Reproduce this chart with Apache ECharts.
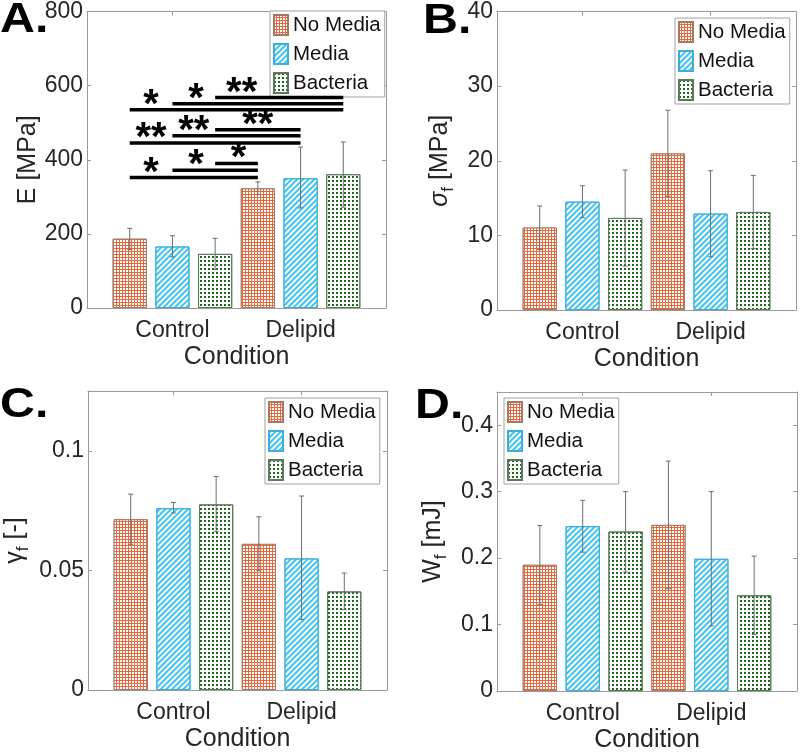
<!DOCTYPE html>
<html><head><meta charset="utf-8">
<script src="https://cdn.jsdelivr.net/npm/echarts@6/dist/echarts.min.js"></script>
<style>html,body{margin:0;padding:0;background:#fff}#c{width:800px;height:756px}</style>
</head><body><div id="c"></div>
<script>
// ---------- data ----------
const categories = ['Control', 'Delipid'];
const seriesNames = ['No Media', 'Media', 'Bacteria'];

// Panel A: E [MPa]   (rows: series, cols: category)
const eMean = [[187, 323], [166, 350], [146, 361]];
const eHigh = [[215, 340], [195, 434], [188, 448]];
const eLow  = [[158, 306], [138, 270], [104, 272]];
const eTicks = [0, 200, 400, 600, 800];

// Panel B: sigma_f [MPa]
const sMean = [[11.05, 20.98], [14.52, 12.92], [12.34, 13.14]];
const sHigh = [[13.94, 26.77], [16.66, 18.66], [18.75, 18.04]];
const sLow  = [[8.10, 15.23], [12.38, 7.13], [5.88, 8.24]];
const sTicks = [0, 10, 20, 30, 40];

// Panel C: gamma_f [-]
const gMean = [[0.0714, 0.0611], [0.0760, 0.0550], [0.0776, 0.0412]];
const gHigh = [[0.0819, 0.0724], [0.0784, 0.0811], [0.0893, 0.0489]];
const gLow  = [[0.0609, 0.0499], [0.0740, 0.0295], [0.0662, 0.0336]];
const gTicks = [0, 0.05, 0.1];

// Panel D: W_f [mJ]
const wMean = [[0.190, 0.250], [0.248, 0.199], [0.240, 0.144]];
const wHigh = [[0.249, 0.346], [0.287, 0.300], [0.300, 0.203]];
const wLow  = [[0.130, 0.154], [0.209, 0.098], [0.179, 0.085]];
const wTicks = [0, 0.1, 0.2, 0.3, 0.4];

// Panel A significance brackets (bar positions 1..6)
const sigStart = [1, 2, 3, 1, 2, 3, 1, 2, 3];
const sigEnd   = [4, 4, 4, 5, 5, 5, 6, 6, 6];
const sigLevel = [352, 372, 390, 445, 465, 481, 535, 551, 568];
const sigText  = ['*', '*', '*', '**', '**', '**', '*', '*', '**'];
const sigTextX = [1.5, 2.55, 3.55, 1.5, 2.5, 4.0, 1.5, 2.55, 3.62];

// ---------- styling / layout ----------
const FONT = '"Liberation Sans", Arial, sans-serif';
const AX = '#9a9a9a';
const TXT = '#262626';
const barStyles = [
  { color: '#E5693D', borderColor: '#a57866', borderWidth: 1,
    decal: { symbol: 'rect', color: '#ffffff', dashArrayX: [1.5, 1], dashArrayY: [1.5, 1], symbolSize: 1 } },
  { color: '#ffffff', borderColor: '#3aaee0', borderWidth: 1,
    decal: { symbol: 'rect', color: '#3FC4F0', dashArrayX: [1, 0], dashArrayY: [1.5, 1.5], rotation: -Math.PI / 4 } },
  { color: '#ffffff', borderColor: '#5b7a5b', borderWidth: 1,
    decal: { symbol: 'rect', color: '#1C6A1C', dashArrayX: [1.4, 1.9], dashArrayY: [1.4, 1.9], symbolSize: 1 } }
];

const panels = [
  { grid: { left: 87, top: 9, width: 299, height: 299 }, max: 800, ticks: eTicks, mean: eMean, high: eHigh, low: eLow,
    name: 'E [MPa]', nameGap: 44, legend: { left: 270, top: 11 }, label: 'A.', lx: 0, ly: 7 },
  { grid: { left: 497, top: 11, width: 299, height: 299 }, max: 40, ticks: sTicks, mean: sMean, high: sHigh, low: sLow,
    name: '{i|σ}{s|f}{n| [MPa]}', nameGap: 40, legend: { left: 675, top: 18 }, label: 'B.', lx: 423, ly: 8 },
  { grid: { left: 88, top: 391, width: 299, height: 299 }, max: 0.125, ticks: gTicks, mean: gMean, high: gHigh, low: gLow,
    name: '{n|γ}{s|f}{n| [-]}', nameGap: 56, legend: { left: 265, top: 398 }, label: 'C.', lx: 0, ly: 392 },
  { grid: { left: 497, top: 392, width: 300, height: 299 }, max: 0.45, ticks: wTicks, mean: wMean, high: wHigh, low: wLow,
    name: '{n|W}{s|f}{n| [mJ]}', nameGap: 47, legend: { left: 504, top: 398 }, label: 'D.', lx: 415, ly: 393 }
];

const barPos = (g, s) => 3 * g + s + 1;
const groupPos = g => 3 * g + 2;

const option = { animation: false, grid: [], xAxis: [], yAxis: [], series: [], legend: [], graphic: [] };

panels.forEach((p, pi) => {
  option.grid.push(Object.assign({ show: false }, p.grid));
  const tickVals = categories.map((c, g) => groupPos(g));
  const common = { type: 'value', gridIndex: pi, min: 0, max: 7, splitLine: { show: false },
    axisLine: { show: true, onZero: false, lineStyle: { color: AX, width: 1 } } };
  option.xAxis.push(Object.assign({}, common, {
    position: 'bottom',
    axisTick: { show: true, inside: true, length: 4, customValues: tickVals, lineStyle: { color: AX } },
    axisLabel: { show: true, customValues: tickVals, margin: 11, fontSize: 23, fontFamily: FONT, color: TXT,
      formatter: v => categories[Math.round((v - 2) / 3)] },
    name: 'Condition', nameLocation: 'middle', nameGap: 37,
    nameTextStyle: { fontSize: 25, fontFamily: FONT, color: TXT }
  }));
  option.xAxis.push(Object.assign({}, common, {
    position: 'top',
    axisTick: { show: true, inside: true, length: 4, customValues: tickVals, lineStyle: { color: AX } },
    axisLabel: { show: false }
  }));
  const ycommon = { type: 'value', gridIndex: pi, min: 0, max: p.max, splitLine: { show: false },
    axisLine: { show: true, onZero: false, lineStyle: { color: AX, width: 1 } } };
  option.yAxis.push(Object.assign({}, ycommon, {
    position: 'left',
    axisTick: { show: true, inside: true, length: 4, customValues: p.ticks, lineStyle: { color: AX } },
    axisLabel: { show: true, customValues: p.ticks, margin: 4, fontSize: 23, fontFamily: FONT, color: TXT,
      formatter: v => String(+v.toFixed(4)) },
    name: p.name, nameLocation: 'middle', nameGap: p.nameGap,
    nameTextStyle: { fontSize: 25, fontFamily: FONT, color: TXT,
      rich: {
        i: { fontSize: 25, fontFamily: FONT, fontStyle: 'italic', color: TXT, verticalAlign: 'top' },
        n: { fontSize: 25, fontFamily: FONT, color: TXT, verticalAlign: 'top' },
        s: { fontSize: 17, fontFamily: FONT, color: TXT, verticalAlign: 'top', padding: [12, 0, 0, 0] }
      } }
  }));
  option.yAxis.push(Object.assign({}, ycommon, {
    position: 'right',
    axisTick: { show: true, inside: true, length: 4, customValues: p.ticks, lineStyle: { color: AX } },
    axisLabel: { show: false }
  }));
  const xi = pi * 2, yi = pi * 2;
  seriesNames.forEach((nm, s) => {
    option.series.push({
      type: 'bar', name: nm, xAxisIndex: xi, yAxisIndex: yi,
      barWidth: '80%', barGap: '-100%',
      itemStyle: barStyles[s],
      data: categories.map((c, g) => [barPos(g, s), p.mean[s][g]])
    });
  });
  const errData = [];
  seriesNames.forEach((nm, s) => categories.forEach((c, g) => errData.push([barPos(g, s), p.low[s][g], p.high[s][g]])));
  option.series.push({
    type: 'custom', xAxisIndex: xi, yAxisIndex: yi, silent: true, z: 5,
    encode: { x: 0, y: [1, 2] },
    data: errData,
    renderItem: (params, api) => {
      const x = api.value(0);
      const a = api.coord([x, api.value(2)]);
      const b = api.coord([x, api.value(1)]);
      const cap = 2.5, st = { stroke: '#6e6e6e', lineWidth: 1 };
      return { type: 'group', children: [
        { type: 'line', shape: { x1: a[0], y1: a[1], x2: b[0], y2: b[1] }, style: st },
        { type: 'line', shape: { x1: a[0] - cap, y1: a[1], x2: a[0] + cap, y2: a[1] }, style: st },
        { type: 'line', shape: { x1: b[0] - cap, y1: b[1], x2: b[0] + cap, y2: b[1] }, style: st }
      ] };
    }
  });
  option.legend.push({
    left: p.legend.left, top: p.legend.top, orient: 'vertical',
    data: seriesNames, icon: 'rect', itemWidth: 14, itemHeight: 20, itemGap: 7,
    padding: [3, 4, 3, 3], borderColor: '#a0a0a0', borderWidth: 1, backgroundColor: '#fff',
    textStyle: { fontSize: 20.5, fontFamily: FONT, color: '#111', lineHeight: 20 },
    selectedMode: false
  });
  option.graphic.push({
    type: 'text', left: p.lx, top: p.ly - 8,
    style: { text: p.label, font: 'bold 42px ' + FONT, fill: '#000' }, scaleX: 1.15
  });
});

// significance bars on panel A
option.series.push({
  type: 'custom', xAxisIndex: 0, yAxisIndex: 0, silent: true, z: 6,
  encode: { x: [0, 1], y: 2 },
  data: sigStart.map((s, i) => [s, sigEnd[i], sigLevel[i], sigTextX[i]]),
  renderItem: (params, api) => {
    const a = api.coord([api.value(0), api.value(2)]);
    const b = api.coord([api.value(1), api.value(2)]);
    const t = api.coord([api.value(3), api.value(2)]);
    return { type: 'group', children: [
      { type: 'line', shape: { x1: a[0], y1: a[1], x2: b[0], y2: b[1] }, style: { stroke: '#000', lineWidth: 3.5 } },
      { type: 'text', x: t[0], y: t[1] - 4,
        style: { text: sigText[params.dataIndex], font: 'bold 40px ' + FONT, fill: '#000',
          textAlign: 'center', textVerticalAlign: 'middle', align: 'center', verticalAlign: 'middle' } }
    ] };
  }
});

const chart = echarts.init(document.getElementById('c'), null, { renderer: 'canvas' });
chart.setOption(option);
</script></body></html>
